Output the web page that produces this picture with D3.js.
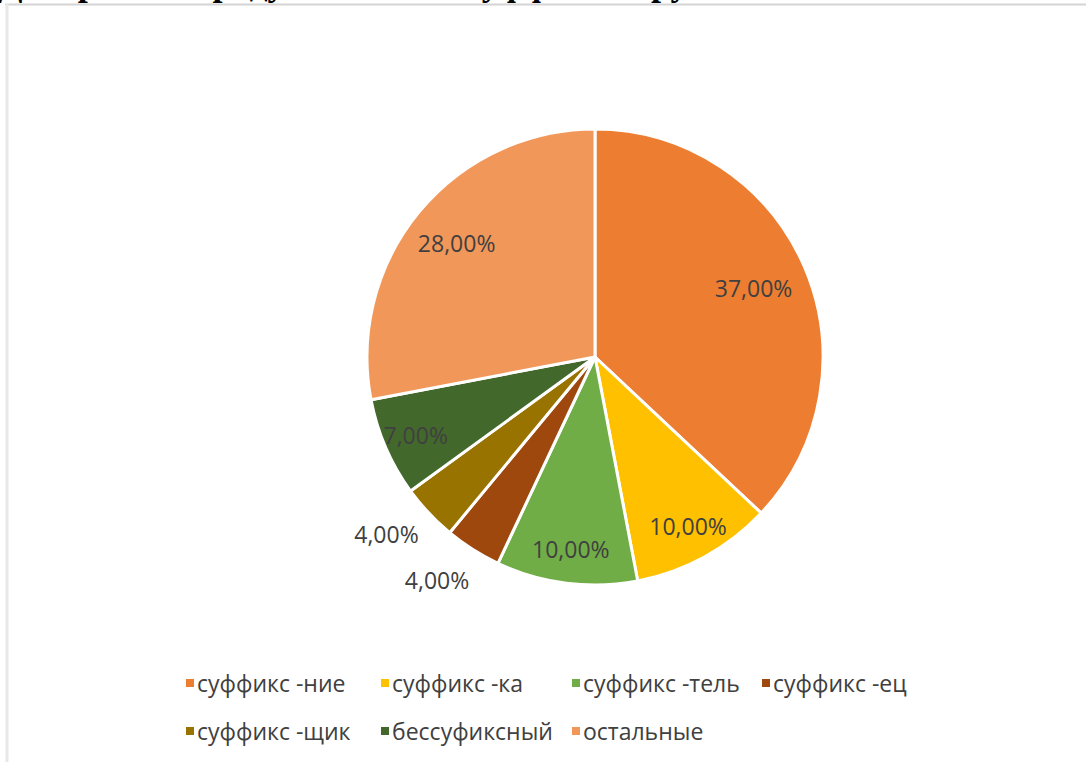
<!DOCTYPE html>
<html><head><meta charset="utf-8">
<script src="https://cdn.jsdelivr.net/npm/d3@7/dist/d3.min.js"></script>
<style>body{margin:0;background:#fff;}svg{display:block;}</style>
</head><body>
<svg id="chart" width="1086" height="762"></svg>
<script>
const titleText = "Диаграмма продуктивности суффиксов русского языка";
const categories = ["суффикс -ние","суффикс -ка","суффикс -тель","суффикс -ец","суффикс -щик","бессуфиксный","остальные"];
const values = [37, 10, 10, 4, 4, 7, 28];
const labels = ["37,00%","10,00%","10,00%","4,00%","4,00%","7,00%","28,00%"];
const colors = ["#ED7D31","#FFC000","#70AD47","#9E480E","#997300","#43682B","#F1975A"];
const legendColumns = 4;

const svg = d3.select("#chart");
const W = 1086, H = 762;
svg.append("rect").attr("width",W).attr("height",H).attr("fill","#fff");

// title (cropped at top; only descenders visible)
svg.append("text").attr("x",-2).attr("y",-5)
  .attr("font-family","Liberation Serif, Times New Roman, serif")
  .attr("font-weight","bold").attr("font-size",36).attr("fill","#000")
  .text(titleText);

// frame lines
svg.append("line").attr("x1",5).attr("x2",W).attr("y1",4.5).attr("y2",4.5).attr("stroke","#d4d4d4").attr("stroke-width",2);
svg.append("line").attr("x1",7).attr("x2",7).attr("y1",4).attr("y2",H).attr("stroke","#e8e8e8").attr("stroke-width",3);

const cx = 595, cy = 357, R = 228;
const g = svg.append("g").attr("transform",`translate(${cx},${cy})`);
const data = categories.map((c,i)=>({c, v: values[i], label: labels[i], color: colors[i]}));
const pie = d3.pie().value(d=>d.v).sort(null);
const arcs = pie(data);
const arc = d3.arc().innerRadius(0).outerRadius(R);

g.selectAll("path").data(arcs).enter().append("path")
  .attr("d", arc).attr("fill", d=>d.data.color)
  .attr("stroke","#fff").attr("stroke-width",3).attr("stroke-linejoin","round");

function labelPos(d){
  let a = (d.startAngle + d.endAngle)/2;
  let f;
  if (d.data.v < 5) { f = 1.2; a += 0.05; }
  else { f = 0.88 - 0.0033*d.data.v; }
  const r = R*f;
  return [Math.sin(a)*r, -Math.cos(a)*r];
}
const labelFont = "Open Sans, Noto Sans, sans-serif";
g.selectAll("text.lbl").data(arcs).enter().append("text")
  .attr("class","lbl")
  .attr("x", d=>labelPos(d)[0]).attr("y", d=>labelPos(d)[1])
  .attr("text-anchor","middle").attr("dominant-baseline","central")
  .attr("font-family",labelFont).attr("font-size",23)
  .attr("fill","#404040")
  .text(d=>d.data.label);

// legend: grid of columns
const legendX = [186, 381, 572, 762];
const legendY = [683, 731];
categories.forEach((c, i)=>{
  const col = i % legendColumns, row = Math.floor(i / legendColumns);
  const item = svg.append("g").attr("transform",`translate(${legendX[col]},${legendY[row]})`);
  item.append("rect").attr("x",0).attr("y",-4).attr("width",8).attr("height",8).attr("fill",colors[i]);
  item.append("text").attr("x",11).attr("y",0).attr("dominant-baseline","central")
    .attr("font-family",labelFont).attr("font-size",23).attr("fill","#404040").text(c);
});
</script>
</body></html>
